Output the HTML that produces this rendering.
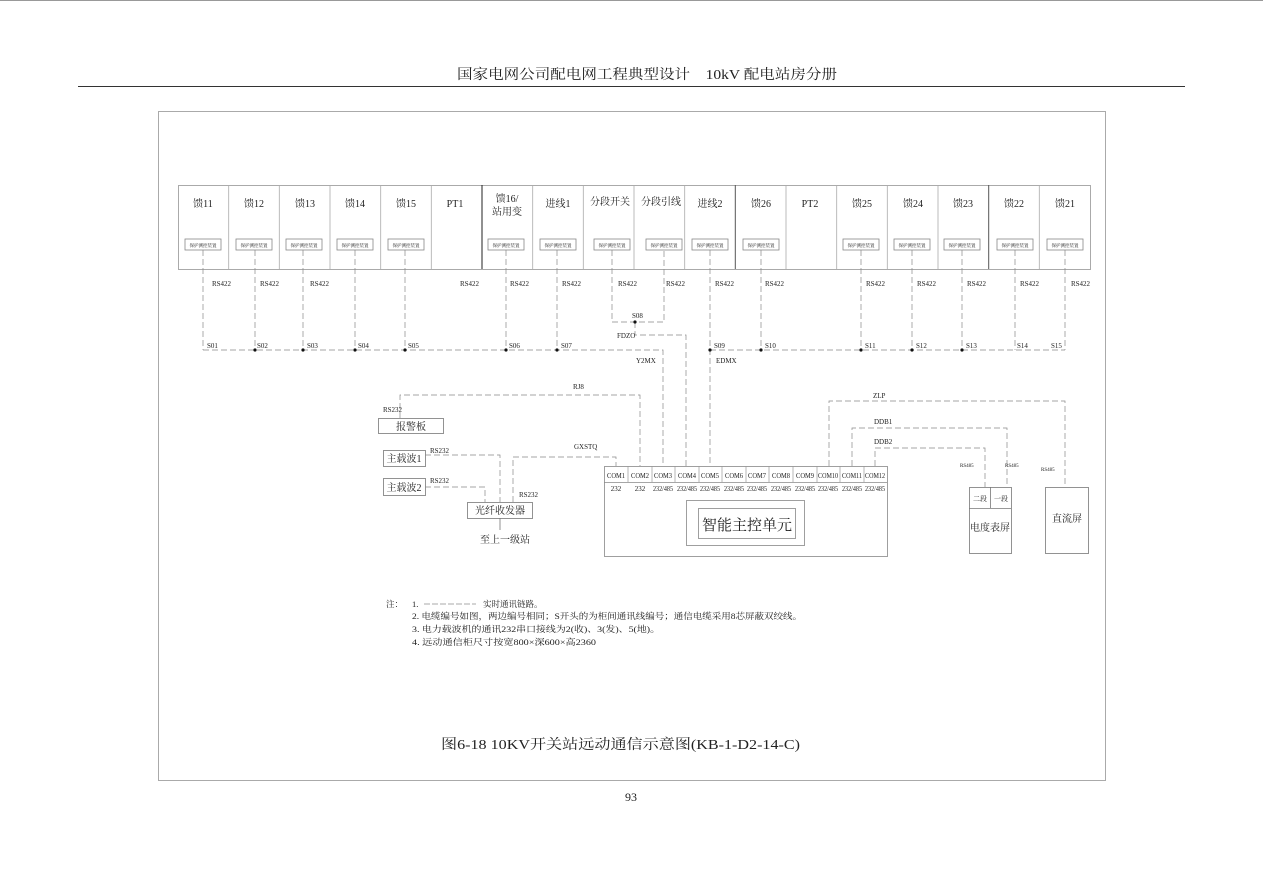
<!DOCTYPE html>
<html><head><meta charset="utf-8"><style>
html,body{margin:0;padding:0;background:#fff;}
svg{display:block;}
text{font-family:"Liberation Serif","Noto Serif CJK SC","Noto Sans CJK SC",serif;fill:#222;}
.s{font-family:"Liberation Sans","Noto Sans CJK SC",sans-serif;fill:#888;font-size:7px;}
.d{stroke:#888;stroke-width:0.7;stroke-dasharray:6,3;fill:none;}
</style></head><body>
<svg width="1263" height="892" viewBox="0 0 1263 892">
<line x1="0" y1="0.5" x2="1263" y2="0.5" stroke="#999"/>
<text x="457" y="79" font-size="14" textLength="380" lengthAdjust="spacingAndGlyphs">国家电网公司配电网工程典型设计　10kV 配电站房分册</text>
<line x1="78" y1="86.5" x2="1185" y2="86.5" stroke="#333" stroke-width="1"/>
<rect x="158.5" y="111.5" width="947" height="669" fill="none" stroke="#aaa"/>

<rect x="178.5" y="185.5" width="912" height="84" fill="none" stroke="#aaa"/>
<g stroke="#aaa" stroke-width="0.8">
<line x1="228.7" y1="185" x2="228.7" y2="269"/><line x1="279.3" y1="185" x2="279.3" y2="269"/>
<line x1="330" y1="185" x2="330" y2="269"/><line x1="380.7" y1="185" x2="380.7" y2="269"/>
<line x1="431.3" y1="185" x2="431.3" y2="269"/>
<line x1="532.7" y1="185" x2="532.7" y2="269"/><line x1="583.3" y1="185" x2="583.3" y2="269"/>
<line x1="634" y1="185" x2="634" y2="269"/><line x1="684.7" y1="185" x2="684.7" y2="269"/>
<line x1="786" y1="185" x2="786" y2="269"/><line x1="836.7" y1="185" x2="836.7" y2="269"/>
<line x1="887.3" y1="185" x2="887.3" y2="269"/><line x1="938" y1="185" x2="938" y2="269"/>
<line x1="1039.3" y1="185" x2="1039.3" y2="269"/>
</g>
<line x1="482" y1="185" x2="482" y2="269" stroke="#222" stroke-width="1"/>
<line x1="735.3" y1="185" x2="735.3" y2="269" stroke="#555" stroke-width="1"/>
<line x1="988.7" y1="185" x2="988.7" y2="269" stroke="#555" stroke-width="1"/>
<g font-size="10" text-anchor="middle">
<text x="203" y="207">馈11</text><text x="254" y="207">馈12</text><text x="305" y="207">馈13</text>
<text x="355" y="207">馈14</text><text x="406" y="207">馈15</text><text x="455" y="207">PT1</text>
<text x="507" y="202">馈16/</text><text x="507" y="215">站用变</text>
<text x="558" y="207">进线1</text><text x="610" y="205">分段开关</text><text x="661" y="205">分段引线</text>
<text x="710" y="207">进线2</text><text x="761" y="207">馈26</text><text x="810" y="207">PT2</text>
<text x="862" y="207">馈25</text><text x="913" y="207">馈24</text><text x="963" y="207">馈23</text>
<text x="1014" y="207">馈22</text><text x="1065" y="207">馈21</text>
</g>
<g fill="#fff" stroke="#888" stroke-width="0.8">
<rect x="185" y="239" width="36" height="11"/><rect x="236" y="239" width="36" height="11"/>
<rect x="286" y="239" width="36" height="11"/><rect x="337" y="239" width="36" height="11"/>
<rect x="388" y="239" width="36" height="11"/><rect x="488" y="239" width="36" height="11"/>
<rect x="540" y="239" width="36" height="11"/><rect x="594" y="239" width="36" height="11"/>
<rect x="646" y="239" width="36" height="11"/><rect x="692" y="239" width="36" height="11"/>
<rect x="743" y="239" width="36" height="11"/><rect x="843" y="239" width="36" height="11"/>
<rect x="894" y="239" width="36" height="11"/><rect x="944" y="239" width="36" height="11"/>
<rect x="997" y="239" width="36" height="11"/><rect x="1047" y="239" width="36" height="11"/>
</g>
<g font-size="4.5" text-anchor="middle">
<text x="203" y="247">保护测控装置</text><text x="254" y="247">保护测控装置</text><text x="304" y="247">保护测控装置</text>
<text x="355" y="247">保护测控装置</text><text x="406" y="247">保护测控装置</text><text x="506" y="247">保护测控装置</text>
<text x="558" y="247">保护测控装置</text><text x="612" y="247">保护测控装置</text><text x="664" y="247">保护测控装置</text>
<text x="710" y="247">保护测控装置</text><text x="761" y="247">保护测控装置</text><text x="861" y="247">保护测控装置</text>
<text x="912" y="247">保护测控装置</text><text x="962" y="247">保护测控装置</text><text x="1015" y="247">保护测控装置</text>
<text x="1065" y="247">保护测控装置</text>
</g>

<g class="d">
<path d="M203 250V350M255 250V350M303 250V350M355 250V350M405 250V350M506 250V350M557 250V350"/>
<path d="M203 350H663V466"/>
<path d="M612 250V322H664V250"/>
<path d="M635 322V335H686V466"/>
<path d="M710 250V466M761 250V350M861 250V350M912 250V350M962 250V350M1015 250V350M1065 250V350"/>
<path d="M710 350H1065"/>
<path d="M400 418V395H640V466"/>
<path d="M425 455H500V502"/>
<path d="M425 487H485V502"/>
<path d="M513 502V457H616V466"/>
<path d="M829 466V401H1065V487"/>
<path d="M852 466V428H1007V487"/>
<path d="M875 466V448H985V487"/>
</g>
<g fill="#111">
<circle cx="255" cy="350" r="1.6"/><circle cx="303" cy="350" r="1.6"/><circle cx="355" cy="350" r="1.6"/>
<circle cx="405" cy="350" r="1.6"/><circle cx="506" cy="350" r="1.6"/><circle cx="557" cy="350" r="1.6"/>
<circle cx="635" cy="322" r="1.6"/>
<circle cx="710" cy="350" r="1.6"/><circle cx="761" cy="350" r="1.6"/><circle cx="861" cy="350" r="1.6"/>
<circle cx="912" cy="350" r="1.6"/><circle cx="962" cy="350" r="1.6"/>
</g>
<g class="s">
<text x="212" y="286">RS422</text><text x="260" y="286">RS422</text><text x="310" y="286">RS422</text>
<text x="460" y="286">RS422</text><text x="510" y="286">RS422</text><text x="562" y="286">RS422</text>
<text x="618" y="286">RS422</text><text x="666" y="286">RS422</text><text x="715" y="286">RS422</text>
<text x="765" y="286">RS422</text><text x="866" y="286">RS422</text><text x="917" y="286">RS422</text>
<text x="967" y="286">RS422</text><text x="1020" y="286">RS422</text><text x="1071" y="286">RS422</text>
<text x="207" y="348">S01</text><text x="257" y="348">S02</text><text x="307" y="348">S03</text>
<text x="358" y="348">S04</text><text x="408" y="348">S05</text><text x="509" y="348">S06</text>
<text x="561" y="348">S07</text><text x="632" y="318">S08</text><text x="617" y="338">FDZO</text>
<text x="714" y="348">S09</text><text x="765" y="348">S10</text><text x="865" y="348">S11</text>
<text x="916" y="348">S12</text><text x="966" y="348">S13</text><text x="1017" y="348">S14</text>
<text x="1051" y="348">S15</text>
<text x="636" y="363">Y2MX</text><text x="716" y="363">EDMX</text>
<text x="573" y="389">RJ8</text><text x="383" y="412">RS232</text>
<text x="430" y="453">RS232</text><text x="430" y="483">RS232</text><text x="519" y="497">RS232</text>
<text x="574" y="449">GXSTQ</text>
<text x="873" y="398">ZLP</text><text x="874" y="424">DDB1</text><text x="874" y="444">DDB2</text>
<text x="960" y="467" font-size="5">RS485</text><text x="1005" y="467" font-size="5">RS485</text><text x="1041" y="471" font-size="5">RS485</text>
</g>

<g fill="#fff" stroke="#777" stroke-width="0.8">
<rect x="378.5" y="418.5" width="65" height="15"/>
<rect x="383.5" y="450.5" width="42" height="16"/>
<rect x="383.5" y="478.5" width="42" height="17"/>
<rect x="467.5" y="502.5" width="65" height="16"/>
</g>
<line x1="500" y1="518" x2="500" y2="530" stroke="#777" stroke-width="0.8"/>
<g font-size="10" text-anchor="middle">
<text x="411" y="430">报警板</text><text x="404" y="462">主载波1</text><text x="404" y="491">主载波2</text>
<text x="500" y="514">光纤收发器</text><text x="505" y="543">至上一级站</text>
</g>

<rect x="604.5" y="466.5" width="283" height="90" fill="none" stroke="#888" stroke-width="0.8"/>
<line x1="604" y1="482.5" x2="887" y2="482.5" stroke="#888" stroke-width="0.8"/>
<g stroke="#999" stroke-width="0.7">
<line x1="628" y1="466" x2="628" y2="482"/><line x1="652" y1="466" x2="652" y2="482"/>
<line x1="675" y1="466" x2="675" y2="482"/><line x1="699" y1="466" x2="699" y2="482"/>
<line x1="722" y1="466" x2="722" y2="482"/><line x1="746" y1="466" x2="746" y2="482"/>
<line x1="769" y1="466" x2="769" y2="482"/><line x1="793" y1="466" x2="793" y2="482"/>
<line x1="817" y1="466" x2="817" y2="482"/><line x1="840" y1="466" x2="840" y2="482"/>
<line x1="864" y1="466" x2="864" y2="482"/>
</g>
<g class="s" font-size="8" text-anchor="middle" lengthAdjust="spacingAndGlyphs">
<text x="616" y="478" textLength="18" lengthAdjust="spacingAndGlyphs">COM1</text>
<text x="640" y="478" textLength="18" lengthAdjust="spacingAndGlyphs">COM2</text>
<text x="663" y="478" textLength="18" lengthAdjust="spacingAndGlyphs">COM3</text>
<text x="687" y="478" textLength="18" lengthAdjust="spacingAndGlyphs">COM4</text>
<text x="710" y="478" textLength="18" lengthAdjust="spacingAndGlyphs">COM5</text>
<text x="734" y="478" textLength="18" lengthAdjust="spacingAndGlyphs">COM6</text>
<text x="757" y="478" textLength="18" lengthAdjust="spacingAndGlyphs">COM7</text>
<text x="781" y="478" textLength="18" lengthAdjust="spacingAndGlyphs">COM8</text>
<text x="805" y="478" textLength="18" lengthAdjust="spacingAndGlyphs">COM9</text>
<text x="828" y="478" textLength="20" lengthAdjust="spacingAndGlyphs">COM10</text>
<text x="852" y="478" textLength="20" lengthAdjust="spacingAndGlyphs">COM11</text>
<text x="875" y="478" textLength="20" lengthAdjust="spacingAndGlyphs">COM12</text>
</g>
<g class="s" font-size="6" text-anchor="middle">
<text x="616" y="491">232</text><text x="640" y="491">232</text>
<text x="663" y="491" textLength="20" lengthAdjust="spacingAndGlyphs">232/485</text>
<text x="687" y="491" textLength="20" lengthAdjust="spacingAndGlyphs">232/485</text>
<text x="710" y="491" textLength="20" lengthAdjust="spacingAndGlyphs">232/485</text>
<text x="734" y="491" textLength="20" lengthAdjust="spacingAndGlyphs">232/485</text>
<text x="757" y="491" textLength="20" lengthAdjust="spacingAndGlyphs">232/485</text>
<text x="781" y="491" textLength="20" lengthAdjust="spacingAndGlyphs">232/485</text>
<text x="805" y="491" textLength="20" lengthAdjust="spacingAndGlyphs">232/485</text>
<text x="828" y="491" textLength="20" lengthAdjust="spacingAndGlyphs">232/485</text>
<text x="852" y="491" textLength="20" lengthAdjust="spacingAndGlyphs">232/485</text>
<text x="875" y="491" textLength="20" lengthAdjust="spacingAndGlyphs">232/485</text>
</g>
<rect x="686.5" y="500.5" width="118" height="45" fill="none" stroke="#888" stroke-width="0.8"/>
<rect x="698.5" y="508.5" width="97" height="30" fill="none" stroke="#888" stroke-width="0.8"/>
<text x="747" y="530" font-size="15" text-anchor="middle">智能主控单元</text>

<g fill="none" stroke="#777" stroke-width="0.8">
<rect x="969.5" y="487.5" width="42" height="66"/>
<line x1="969" y1="508.5" x2="1011" y2="508.5"/>
<line x1="990.5" y1="487" x2="990.5" y2="508"/>
<rect x="1045.5" y="487.5" width="43" height="66"/>
</g>
<g text-anchor="middle">
<text x="980" y="501" font-size="7">二段</text><text x="1001" y="501" font-size="7">一段</text>
<text x="990" y="531" font-size="10">电度表屏</text><text x="1067" y="522" font-size="10">直流屏</text>
</g>

<g font-size="8.5">
<text x="386" y="607">注：</text>
<text x="412" y="607">1.</text>
<line x1="424" y1="604" x2="476" y2="604" stroke="#555" stroke-width="0.6" stroke-dasharray="6,2"/>
<text x="483" y="607">实时通讯链路。</text>
<text x="412" y="619" textLength="390" lengthAdjust="spacingAndGlyphs">2. 电缆编号如图，两边编号相同；S开头的为柜间通讯线编号；通信电缆采用8芯屏蔽双绞线。</text>
<text x="412" y="632" textLength="248" lengthAdjust="spacingAndGlyphs">3. 电力载波机的通讯232串口接线为2(收)、3(发)、5(地)。</text>
<text x="412" y="645" textLength="184" lengthAdjust="spacingAndGlyphs">4. 远动通信柜尺寸按宽800×深600×高2360</text>
</g>
<text x="441" y="749" font-size="14" font-family="Liberation Mono, Noto Serif CJK SC, monospace" textLength="359" lengthAdjust="spacingAndGlyphs">图6-18 10KV开关站远动通信示意图(KB-1-D2-14-C)</text>
<text x="631" y="801" font-size="12" text-anchor="middle">93</text>
</svg>
</body></html>
